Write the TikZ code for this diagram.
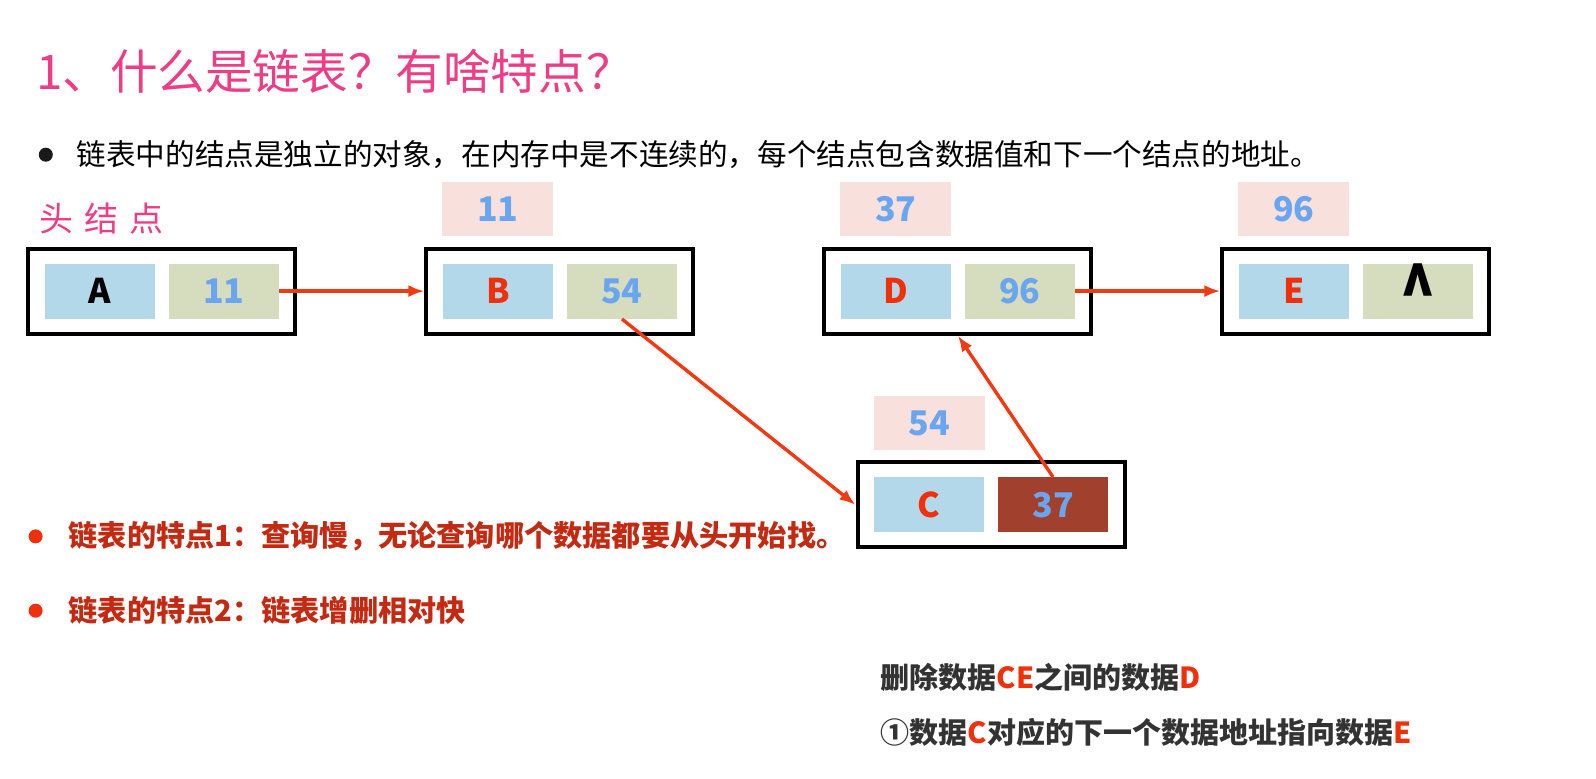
\documentclass[tikz,border=0pt]{standalone}
\usepackage{fontspec}
\usepackage{tikz}
\usetikzlibrary{arrows.meta,positioning}
\usepackage{xcolor}
\newfontfamily\cjk{Noto Sans CJK SC}
\definecolor{TitlePink}{HTML}{EE3D86}
\definecolor{KeyBlue}{HTML}{B3D8EA}
\definecolor{ValGreen}{HTML}{D6DDBE}
\definecolor{AddrPink}{HTML}{F8E0DC}
\definecolor{NumBlue}{HTML}{6AA6F0}
\definecolor{LetterRed}{HTML}{F0300A}
\definecolor{LinkRed}{HTML}{F03A12}
\definecolor{CellBrown}{HTML}{A2402E}
\definecolor{NoteRed}{HTML}{C42A12}
\definecolor{Ink}{HTML}{333333}
\tikzset{
 nodebox/.style={draw=black, line width=2pt, minimum width=133.5pt, minimum height=42.5pt, inner sep=0pt},
 keycell/.style={fill=KeyBlue, minimum width=55pt, minimum height=27.5pt, inner sep=0pt, font=\cjk\bfseries\fontsize{17}{20}\selectfont},
 valcell/.style={keycell, fill=ValGreen, text=NumBlue},
 addrbox/.style={keycell, fill=AddrPink, text=NumBlue, minimum width=55.5pt, minimum height=27pt},
 link/.style={-{Latex[length=8pt,width=6pt]}, line width=1.7pt, draw=LinkRed},
 note/.style={anchor=west, inner sep=0pt, font=\cjk\bfseries\fontsize{14.6}{17}\selectfont, text=NoteRed},
 step note/.style={anchor=west, inner sep=0pt, font=\cjk\bfseries\fontsize{14.5}{17}\selectfont, text=Ink}
}
\newcommand{\nullmark}{\raisebox{-4pt}{\scalebox{1.7}[2.1]{\textasciicircum}}}

\begin{document}
\begin{tikzpicture}[x=0.5pt,y=-0.5pt]
\path[fill=white] (0,0) rectangle (1596,778);
\useasboundingbox (0,0) rectangle (1596,778);

% heading
\node[anchor=west, inner sep=0pt, text=TitlePink, font=\cjk\fontsize{23.8}{28}\selectfont] (title) at (35.6,71.3) {1、什么是链表？有啥特点？};
\fill[black!90] (45.8,154.7) circle (3.5pt);
\node[anchor=west, inner sep=0pt, font=\cjk\fontsize{14.8}{18}\selectfont] (intro) at (76.3,154.7) {链表中的结点是独立的对象，在内存中是不连续的，每个结点包含数据值和下一个结点的地址。};
\node[anchor=west, inner sep=0pt, text=TitlePink, font=\cjk\fontsize{17}{20}\selectfont] (head) at (38.7,218.8) {头\hspace{5.5pt}结\hspace{5.5pt}点};

% list nodes
\node[nodebox] (A) at (161.9,291.1) {};
\node[nodebox, right=63.5pt of A] (B) {};
\node[nodebox, right=63.5pt of B] (D) {};
\node[nodebox, right=63.5pt of D] (E) {};
\node[nodebox] (C) at (991,504.9) {};

\foreach \n/\kc/\v/\vf/\vc in {A/black/11/ValGreen/NumBlue, B/LetterRed/54/ValGreen/NumBlue, C/LetterRed/37/CellBrown/NumBlue, D/LetterRed/96/ValGreen/NumBlue, E/LetterRed/\nullmark/ValGreen/black}{
  \node[keycell, text=\kc] (\n k) at ([xshift=-31pt]\n.center) {\n};
  \node[valcell, fill=\vf, text=\vc] (\n v) at ([xshift=31pt]\n.center) {\v};
}
\foreach \n/\a in {B/11, C/54, D/37, E/96}
  \node[addrbox] (\n a) at ([yshift=41pt]\n k) {\a};

% pointers
\draw[link] (Av.east) -- (Av.east -| B.west);
\draw[link] (Bv.south) -- (C.west);
\draw[link] (Cv.north) -- (D.south);
\draw[link] (Dv.east) -- (Dv.east -| E.west);

% notes
\fill[LetterRed] (35.6,536.4) circle (3.5pt);
\node[note] (note1) at (68.2,536.4) {链表的特点1：查询慢，无论查询哪个数据都要从头开始找。};
\fill[LetterRed] (35.6,610.7) circle (3.5pt);
\node[note] (note2) at (68.2,610.7) {链表的特点2：链表增删相对快};

\node[step note] (del) at (880.5,676.9) {删除数据\textcolor{LetterRed}{CE}之间的数据\textcolor{LetterRed}{D}};
\node[step note] (step1) at (880.5,732.9) {①数据\textcolor{LetterRed}{C}对应的下一个数据地址指向数据\textcolor{LetterRed}{E}};
\end{tikzpicture}
\end{document}
